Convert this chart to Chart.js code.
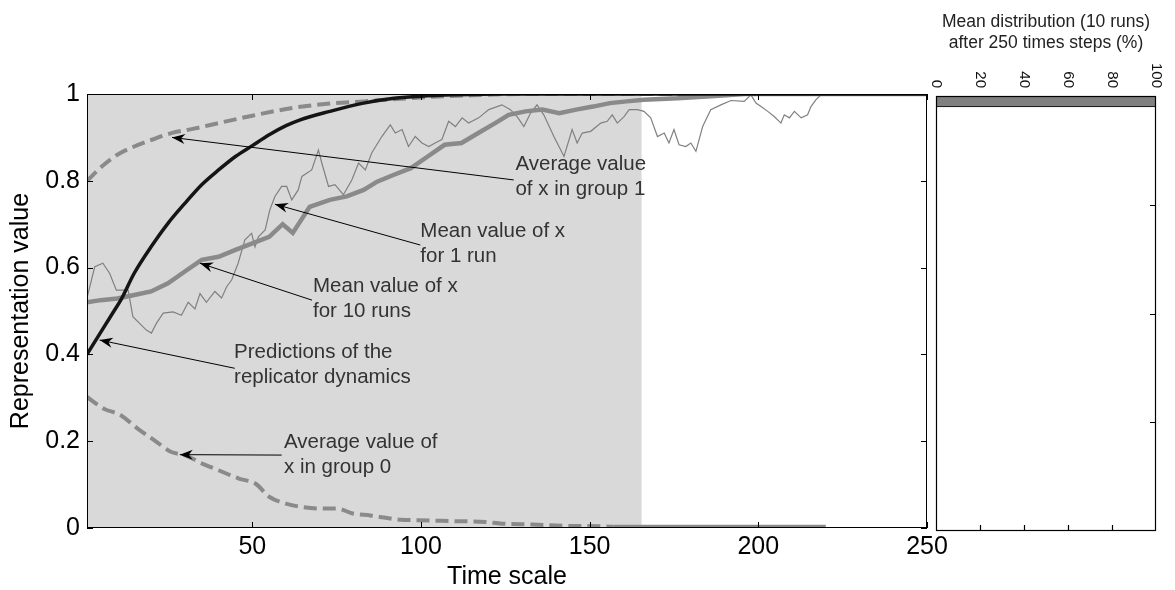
<!DOCTYPE html>
<html>
<head>
<meta charset="utf-8">
<script src="https://cdn.jsdelivr.net/npm/chart.js@4.4.1/dist/chart.umd.min.js"></script>
<style>
  html, body { margin: 0; padding: 0; background: #fff; }
  #wrap { position: relative; width: 1175px; height: 590px; }
  #mainChart { position: absolute; left: 0; top: 0; }
  #distChart { position: absolute; left: 930px; top: 0; }
</style>
</head>
<body>
<div id="wrap">
  <canvas id="mainChart" width="960" height="590"></canvas>
  <canvas id="distChart" width="245" height="590"></canvas>
</div>
<script>
// Time axis and value axis ticks
const timeTicks = [50, 100, 150, 200, 250];
const valueTicks = [0, 0.2, 0.4, 0.6, 0.8, 1];
const shadeEnd = 165.4;   // grey background ends here (time steps)
const solidFrom = 156;    // group 0 curve turns solid here

// Predictions of the replicator dynamics
const replicatorT = [1, 5, 9, 11, 15, 20, 25, 30, 35, 40, 45, 50, 55, 60, 64, 73, 83, 92, 100, 110, 125, 150, 250];
const replicatorV = [0.40, 0.45, 0.50, 0.525, 0.587, 0.648, 0.702, 0.748, 0.791, 0.825, 0.856, 0.881, 0.906, 0.927, 0.94, 0.96, 0.979, 0.99, 0.995, 0.998, 1, 1, 1];

// Average value of x in group 1
const group1T = [1, 6, 10, 15, 20, 26, 32, 40, 50, 62, 73, 83, 92, 102, 115, 130, 250];
const group1V = [0.80, 0.837, 0.86, 0.879, 0.894, 0.91, 0.919, 0.933, 0.95, 0.968, 0.978, 0.983, 0.988, 0.993, 0.997, 1, 1];

// Average value of x in group 0
const group0T = [1, 6, 11, 16, 21, 26, 30, 35, 40, 46, 51, 55, 60, 65, 70, 75, 80, 85, 89, 94, 99, 109, 119, 124, 133, 143, 153, 157, 220];
const group0V = [0.302, 0.275, 0.26, 0.229, 0.202, 0.175, 0.168, 0.149, 0.133, 0.114, 0.102, 0.072, 0.056, 0.048, 0.045, 0.045, 0.033, 0.029, 0.024, 0.019, 0.018, 0.016, 0.014, 0.01, 0.008, 0.005, 0.004, 0.003, 0.003];

// Mean value of x for 10 runs
const mean10T = [1, 5, 10, 15, 20, 25, 30, 35, 40, 45, 50, 55, 59, 62, 67, 73, 78, 83, 87, 92, 97, 102, 107, 112, 117, 122, 126, 131, 136, 141, 146, 151, 156, 161, 166, 176, 186, 196, 250];
const mean10V = [0.52, 0.525, 0.529, 0.537, 0.545, 0.564, 0.591, 0.618, 0.625, 0.641, 0.656, 0.671, 0.70, 0.68, 0.74, 0.756, 0.764, 0.779, 0.798, 0.814, 0.829, 0.856, 0.883, 0.887, 0.91, 0.933, 0.952, 0.96, 0.964, 0.956, 0.964, 0.971, 0.979, 0.983, 0.987, 0.99, 0.995, 1, 1];

// Mean value of x for 1 run
const run1T = [1, 3.3, 5.7, 7.7, 9.7, 13.2, 14.6, 18.6, 20.1, 21.6, 23.6, 26.5, 29, 31, 33, 34.5, 36.4, 38.9, 40.9, 42.4,
  43.9, 45.8, 47.8, 49.8, 50.8, 51.8, 53.8, 55.2, 56.7, 58.7, 60.2, 61.7, 63.6, 64.7, 67.6, 69.6, 70.6, 72.6, 74.5, 77,
  79.5, 81.5, 83.5, 85.4, 88.4, 90.9, 92.4, 94.4, 96.3, 98.3, 100.3, 102.3, 104.2, 106.2, 108.2, 110.2, 112.2, 114.1, 117.1, 120.1,
  124, 126.5, 128.5, 130.5, 132.5, 134.4, 136.4, 139.4, 142.4, 144.8, 146.3, 147.8, 150.3, 153.3, 155.2, 156.7, 158.2, 160.2, 161.7, 164.2,
  166.1, 168.1, 170.1, 172.1, 173.5, 175, 176.5, 178.5, 180, 181.5, 183.5, 185.9, 188.9, 191.9, 195.8, 197.8, 199.3, 200.8, 202.8, 204.7,
  206.7, 207.7, 209.2, 210.7, 212.7, 214.6, 215.6, 217.1, 218.6, 222, 250];
const run1V = [0.53, 0.602, 0.61, 0.587, 0.548, 0.548, 0.487, 0.456, 0.449, 0.472, 0.495, 0.498, 0.49, 0.52, 0.505, 0.54, 0.52, 0.545, 0.53, 0.556,
  0.572, 0.61, 0.664, 0.679, 0.648, 0.671, 0.687, 0.733, 0.764, 0.787, 0.787, 0.756, 0.779, 0.81, 0.825, 0.871, 0.841, 0.787, 0.791, 0.768,
  0.802, 0.841, 0.825, 0.864, 0.902, 0.929, 0.91, 0.918, 0.879, 0.902, 0.887, 0.879, 0.887, 0.895, 0.937, 0.925, 0.945, 0.933, 0.945, 0.964,
  0.975, 0.964, 0.948, 0.925, 0.956, 0.975, 0.952, 0.902, 0.856, 0.918, 0.887, 0.91, 0.914, 0.933, 0.937, 0.952, 0.933, 0.948, 0.964, 0.964,
  0.96, 0.945, 0.902, 0.91, 0.887, 0.918, 0.883, 0.879, 0.887, 0.868, 0.925, 0.964, 0.975, 0.985, 0.983, 0.998, 0.979, 0.971, 0.96, 0.948,
  0.933, 0.952, 0.945, 0.96, 0.945, 0.952, 0.971, 0.987, 0.998, 1, 1];

// Mean distribution after 250 steps: 40 bins of x, top bin first (%)
const distBins = ['1', '0.975', '0.95', '0.925', '0.9', '0.875', '0.85', '0.825', '0.8', '0.775',
  '0.75', '0.725', '0.7', '0.675', '0.65', '0.625', '0.6', '0.575', '0.55', '0.525',
  '0.5', '0.475', '0.45', '0.425', '0.4', '0.375', '0.35', '0.325', '0.3', '0.275',
  '0.25', '0.225', '0.2', '0.175', '0.15', '0.125', '0.1', '0.075', '0.05', '0.025'];
const distShare = [100, 0, 0, 0, 0, 0, 0, 0, 0, 0,
  0, 0, 0, 0, 0, 0, 0, 0, 0, 0,
  0, 0, 0, 0, 0, 0, 0, 0, 0, 0,
  0, 0, 0, 0, 0, 0, 0, 0, 0, 0];
const distTicks = [0, 20, 40, 60, 80, 100];
const distQuarterBins = [10, 20, 30];

// Arrow annotations (data coordinates)
const notes = [
  { lines: ['Average value', 'of x in group 1'], text: [128, 0.837], tail: [127.5, 0.802], tip: [26.2, 0.9] },
  { lines: ['Mean value of x', 'for 1 run'], text: [99.8, 0.683], tail: [99.8, 0.652], tip: [56.7, 0.746] },
  { lines: ['Mean value of x', 'for 10 runs'], text: [68, 0.556], tail: [67.7, 0.525], tip: [34.5, 0.61] },
  { lines: ['Predictions of the', 'replicator dynamics'], text: [44.6, 0.404], tail: [44.8, 0.368], tip: [4.75, 0.433] },
  { lines: ['Average value of', 'x in group 0'], text: [59.4, 0.197], tail: [58.7, 0.168], tip: [28.5, 0.169] }
];

const FONT = "'Liberation Sans', Arial, Helvetica, sans-serif";
const GREY = '#8a8a8a';

const pts = (t, v) => t.map((ti, i) => ({ x: ti, y: v[i] }));

function drawArrowHead(ctx, tx, ty, fx, fy) {
    const ang = Math.atan2(ty - fy, tx - fx);
    const L = 13, W = 5, N = 9;
    const c = Math.cos(ang), s = Math.sin(ang);
    const p = (a, b) => [tx - a * c + b * s, ty - a * s - b * c];
    const [x1, y1] = p(L, W), [x2, y2] = p(N, 0), [x3, y3] = p(L, -W);
    ctx.beginPath();
    ctx.moveTo(tx, ty);
    ctx.lineTo(x1, y1);
    ctx.lineTo(x2, y2);
    ctx.lineTo(x3, y3);
    ctx.closePath();
    ctx.fill();
}

// Main plot: shading, frame, inward ticks, arrows
const mainDecor = {
    id: 'mainDecor',
    beforeDatasetsDraw(chart) {
        const { ctx, chartArea: a, scales: { x } } = chart;
        ctx.save();
        ctx.fillStyle = '#d9d9d9';
        ctx.fillRect(a.left, a.top, x.getPixelForValue(shadeEnd) - a.left, a.bottom - a.top);
        ctx.restore();
    },
    afterDraw(chart) {
        const { ctx, chartArea: a, scales: { x, y } } = chart;
        ctx.save();
        ctx.strokeStyle = '#000';
        ctx.lineWidth = 1;
        ctx.strokeRect(a.left + 0.5, a.top + 0.5, a.right - a.left - 1, a.bottom - a.top - 1);
        ctx.beginPath();
        timeTicks.forEach(v => {
            const px = Math.round(x.getPixelForValue(v)) + 0.5;
            ctx.moveTo(px, a.bottom); ctx.lineTo(px, a.bottom - 6);
            ctx.moveTo(px, a.top); ctx.lineTo(px, a.top + 6);
        });
        valueTicks.forEach(v => {
            const py = Math.round(y.getPixelForValue(v)) + 0.5;
            ctx.moveTo(a.left, py); ctx.lineTo(a.left + 6, py);
            ctx.moveTo(a.right, py); ctx.lineTo(a.right - 6, py);
        });
        ctx.stroke();

        // annotations
        ctx.fillStyle = '#000';
        ctx.lineWidth = 1;
        notes.forEach(n => {
            const tx = x.getPixelForValue(n.tip[0]), ty = y.getPixelForValue(n.tip[1]);
            const fx = x.getPixelForValue(n.tail[0]), fy = y.getPixelForValue(n.tail[1]);
            ctx.beginPath();
            ctx.moveTo(fx, fy);
            ctx.lineTo(tx, ty);
            ctx.stroke();
            drawArrowHead(ctx, tx, ty, fx, fy);
        });
        ctx.fillStyle = '#333';
        ctx.font = '20.5px ' + FONT;
        ctx.textAlign = 'left';
        ctx.textBaseline = 'middle';
        notes.forEach(n => {
            const lx = x.getPixelForValue(n.text[0]), ly = y.getPixelForValue(n.text[1]);
            n.lines.forEach((s, i) => ctx.fillText(s, lx, ly + i * 25));
        });
        ctx.restore();
    }
};

const mainCtx = document.getElementById('mainChart').getContext('2d');
const mainChart = new Chart(mainCtx, {
    type: 'line',
    data: {
        datasets: [
            {
                label: 'Predictions of the replicator dynamics',
                data: pts(replicatorT, replicatorV),
                borderColor: '#151515',
                borderWidth: 3.5,
                cubicInterpolationMode: 'monotone',
                order: 1
            },
            {
                label: 'Average value of x in group 1',
                data: pts(group1T, group1V),
                borderColor: GREY,
                borderWidth: 4,
                borderDash: [13, 6],
                cubicInterpolationMode: 'monotone',
                order: 2
            },
            {
                label: 'Average value of x in group 0',
                data: pts(group0T, group0V),
                borderColor: GREY,
                borderWidth: 4,
                borderDash: [],
                segment: {
                    borderDash: ctx => ctx.p0.parsed.x < solidFrom ? [13, 6] : undefined
                },
                cubicInterpolationMode: 'monotone',
                order: 3
            },
            {
                label: 'Mean value of x for 10 runs',
                data: pts(mean10T, mean10V),
                borderColor: GREY,
                borderWidth: 4.5,
                tension: 0,
                order: 4
            },
            {
                label: 'Mean value of x for 1 run',
                data: pts(run1T, run1V),
                borderColor: '#808080',
                borderWidth: 1.2,
                tension: 0,
                order: 5
            }
        ]
    },
    options: {
        responsive: false,
        animation: false,
        events: [],
        layout: { padding: { top: 94, right: 33, left: 0, bottom: 0 } },
        elements: { point: { radius: 0 } },
        plugins: {
            legend: { display: false },
            tooltip: { enabled: false }
        },
        scales: {
            x: {
                type: 'linear',
                min: 1,
                max: 250,
                afterBuildTicks: s => { s.ticks = timeTicks.map(v => ({ value: v })); },
                afterFit: s => { s.height = 62; },
                grid: { display: false, drawTicks: false },
                border: { display: false },
                ticks: {
                    color: '#000',
                    padding: 4,
                    maxRotation: 0,
                    autoSkip: false,
                    callback: v => String(v),
                    font: { family: FONT, size: 25, lineHeight: 1.2 }
                },
                title: {
                    display: true,
                    text: 'Time scale',
                    color: '#000',
                    padding: { top: 0, bottom: 0 },
                    font: { family: FONT, size: 25, lineHeight: 1 }
                }
            },
            y: {
                type: 'linear',
                min: 0,
                max: 1,
                afterBuildTicks: s => { s.ticks = valueTicks.map(v => ({ value: v })); },
                afterFit: s => { s.width = 87; },
                grid: { display: false, drawTicks: false },
                border: { display: false },
                ticks: {
                    color: '#000',
                    padding: 7,
                    autoSkip: false,
                    callback: v => String(v),
                    font: { family: FONT, size: 25 }
                },
                title: {
                    display: true,
                    text: 'Representation value',
                    color: '#000',
                    padding: { top: 9, bottom: 0 },
                    font: { family: FONT, size: 25, lineHeight: 1 }
                }
            }
        }
    },
    plugins: [mainDecor]
});

// Right panel: frame, ticks, rotated labels, heading
const distDecor = {
    id: 'distDecor',
    afterDraw(chart) {
        const { ctx, chartArea: a, scales: { x, y } } = chart;
        ctx.save();
        ctx.strokeStyle = '#000';
        ctx.lineWidth = 1.2;
        ctx.strokeRect(a.left + 0.5, a.top + 0.5, a.right - a.left - 1, a.bottom - a.top - 1);
        ctx.beginPath();
        distTicks.slice(1, -1).forEach(v => {
            const px = Math.round(x.getPixelForValue(v)) + 0.5;
            ctx.moveTo(px, a.bottom); ctx.lineTo(px, a.bottom - 6);
        });
        distQuarterBins.forEach(i => {
            const py = Math.round((y.getPixelForValue(i - 1) + y.getPixelForValue(i)) / 2) + 0.5;
            ctx.moveTo(a.right, py); ctx.lineTo(a.right - 6, py);
        });
        ctx.stroke();

        ctx.fillStyle = '#111';
        ctx.font = '15px ' + FONT;
        ctx.textAlign = 'right';
        ctx.textBaseline = 'middle';
        distTicks.forEach(v => {
            ctx.save();
            ctx.translate(x.getPixelForValue(v), a.top - 8);
            ctx.rotate(Math.PI / 2);
            ctx.fillText(String(v), 0, 0);
            ctx.restore();
        });

        ctx.fillStyle = '#222';
        ctx.font = '17.5px ' + FONT;
        ctx.textAlign = 'center';
        const cx = (a.left + a.right) / 2;
        ctx.fillText('Mean distribution (10 runs)', cx, a.top - 74);
        ctx.fillText('after 250 times steps (%)', cx, a.top - 53);
        ctx.restore();
    }
};

const distCtx = document.getElementById('distChart').getContext('2d');
const distChart = new Chart(distCtx, {
    type: 'bar',
    data: {
        labels: distBins,
        datasets: [{
            label: 'Mean distribution (%)',
            data: distShare,
            backgroundColor: '#808080',
            borderColor: '#000',
            borderWidth: 1,
            categoryPercentage: 1,
            barPercentage: 1
        }]
    },
    options: {
        indexAxis: 'y',
        responsive: false,
        animation: false,
        events: [],
        layout: { padding: { top: 96, right: 19, left: 6, bottom: 59 } },
        plugins: {
            legend: { display: false },
            tooltip: { enabled: false }
        },
        scales: {
            x: { type: 'linear', min: 0, max: 100, display: false },
            y: { type: 'category', display: false }
        }
    },
    plugins: [distDecor]
});
</script>
</body>
</html>
